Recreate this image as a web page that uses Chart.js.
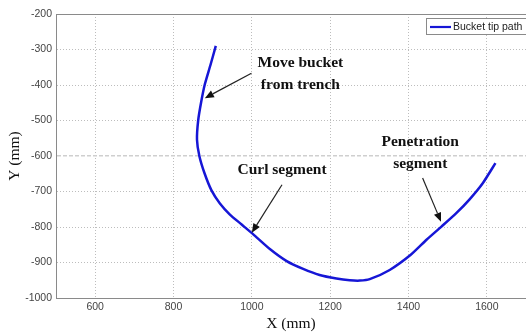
<!DOCTYPE html>
<html>
<head>
<meta charset="utf-8">
<script src="https://cdn.jsdelivr.net/npm/chart.js@4"></script>
<style>
  html, body { margin: 0; padding: 0; background: #fff; overflow: hidden; }
  #wrap { width: 526px; height: 336px; }
</style>
</head>
<body>
<div id="wrap"><canvas id="pathChart" width="526" height="336"></canvas></div>
<script>
// bucket tip path (mm)
const tipX = [908, 894, 880, 871, 863, 860, 866, 879, 897, 918, 944, 974, 1003, 1046, 1089, 1131, 1173, 1216, 1250, 1276, 1301, 1352, 1405, 1446, 1484, 1522, 1556, 1590, 1622];
const tipY = [-290, -345, -398, -446, -500, -554, -600, -648, -697, -733, -765, -793, -820, -862, -896, -918, -935, -945, -950, -951, -947, -921, -879, -836, -799, -761, -722, -676, -620];
const seriesName = 'Bucket tip path';
const xTicks = [600, 800, 1000, 1200, 1400, 1600];
const yTicks = [-200, -300, -400, -500, -600, -700, -800, -900, -1000];

const points = tipX.map((x, i) => ({ x: x, y: tipY[i] }));

// notes with arrows, in data units
const notes = [
  { lines: ['Move bucket', 'from trench'], x: 1124, y: [-349, -410], from: [999, -367], to: [880, -437] },
  { lines: ['Curl segment'], x: 1077, y: [-650], from: [1077, -681], to: [1000, -816] },
  { lines: ['Penetration', 'segment'], x: 1430, y: [-573, -633], from: [1436, -662], to: [1483, -785] }
];

const boxPlugin = {
  id: 'boxAndNotes',
  beforeDatasetsDraw(chart) {
    const { ctx, chartArea: a } = chart;
    ctx.save();
    ctx.strokeStyle = '#8a8a8a';
    ctx.lineWidth = 1;
    ctx.beginPath();
    ctx.moveTo(a.left, a.top + 0.5);
    ctx.lineTo(a.right, a.top + 0.5);
    ctx.stroke();
    ctx.restore();
  },
  afterDatasetsDraw(chart) {
    const { ctx, chartArea: a, scales } = chart;
    const sx = scales.x, sy = scales.y;
    ctx.save();
    // annotations
    ctx.fillStyle = '#111';
    ctx.textAlign = 'center';
    ctx.textBaseline = 'alphabetic';
    ctx.font = 'bold 15.5px "Liberation Serif", "Times New Roman", serif';
    notes.forEach(n => {
      n.lines.forEach((t, i) => {
        ctx.fillText(t, sx.getPixelForValue(n.x), sy.getPixelForValue(n.y[i]));
      });
      const x1 = sx.getPixelForValue(n.from[0]), y1 = sy.getPixelForValue(n.from[1]);
      const x2 = sx.getPixelForValue(n.to[0]), y2 = sy.getPixelForValue(n.to[1]);
      const ang = Math.atan2(y2 - y1, x2 - x1);
      const len = 9, half = 3.8;
      const bx = x2 - len * Math.cos(ang), by = y2 - len * Math.sin(ang);
      ctx.strokeStyle = '#222';
      ctx.lineWidth = 1.2;
      ctx.beginPath();
      ctx.moveTo(x1, y1);
      ctx.lineTo(bx, by);
      ctx.stroke();
      ctx.beginPath();
      ctx.moveTo(x2, y2);
      ctx.lineTo(bx + half * Math.sin(ang), by - half * Math.cos(ang));
      ctx.lineTo(bx - half * Math.sin(ang), by + half * Math.cos(ang));
      ctx.closePath();
      ctx.fill();
    });
    // legend box
    const ds = chart.data.datasets[0];
    const lx = a.right - 100, ly = a.top + 4;
    ctx.fillStyle = '#fff';
    ctx.fillRect(lx, ly, 110, 16);
    ctx.strokeStyle = '#8a8a8a';
    ctx.lineWidth = 1;
    ctx.strokeRect(lx + 0.5, ly + 0.5, 110, 16);
    ctx.strokeStyle = ds.borderColor;
    ctx.lineWidth = 2.2;
    ctx.beginPath();
    ctx.moveTo(lx + 4, ly + 9);
    ctx.lineTo(lx + 25, ly + 9);
    ctx.stroke();
    ctx.fillStyle = '#222';
    ctx.textAlign = 'left';
    ctx.textBaseline = 'middle';
    ctx.font = '10.5px "Liberation Sans", Arial, sans-serif';
    ctx.fillText(ds.label, lx + 27, ly + 9);
    ctx.restore();
  }
};

const tickFont = { family: '"Liberation Sans", Arial, sans-serif', size: 10.5 };
const titleFont = { family: '"Liberation Serif", "Times New Roman", serif', size: 15.5 };

new Chart(document.getElementById('pathChart'), {
  type: 'scatter',
  data: {
    datasets: [{
      label: seriesName,
      data: points,
      showLine: true,
      borderColor: '#1616d6',
      borderWidth: 2.5,
      pointRadius: 0,
      tension: 0.2,
      fill: false
    }]
  },
  options: {
    responsive: false,
    animation: false,
    layout: { padding: { top: 14, right: 0, left: 0, bottom: 0 } },
    plugins: { legend: { display: false }, tooltip: { enabled: false } },
    scales: {
      x: {
        type: 'linear',
        min: 500,
        max: 1700,
        afterBuildTicks: s => { s.ticks = xTicks.map(v => ({ value: v })); },
        afterFit: s => { s.height = 38; },
        ticks: { font: tickFont, color: '#444', padding: 3, callback: v => String(v) },
        grid: { color: '#bdbdbd', lineWidth: 1, drawTicks: false },
        border: { color: '#8a8a8a', width: 1, dash: [1, 2] },
        title: { display: true, text: 'X (mm)', font: titleFont, color: '#111', padding: { top: 0, bottom: 3 } }
      },
      y: {
        type: 'linear',
        min: -1000,
        max: -200,
        afterBuildTicks: s => { s.ticks = yTicks.map(v => ({ value: v })); },
        afterFit: s => { s.width = 56; },
        ticks: { font: tickFont, color: '#444', padding: 4, callback: v => String(v) },
        grid: {
          color: c => (c.tick && c.tick.value === -600) ? '#cfcfcf' : '#bdbdbd',
          lineWidth: c => (c.tick && c.tick.value === -600) ? 1.6 : 1,
          drawTicks: false
        },
        border: {
          color: '#8a8a8a', width: 1,
          dash: c => (c.tick && c.tick.value === -600) ? [4, 2] : [1, 2]
        },
        title: { display: true, text: 'Y (mm)', font: titleFont, color: '#111', padding: { top: 6, bottom: 0 } }
      }
    }
  },
  plugins: [boxPlugin]
});
</script>
</body>
</html>
